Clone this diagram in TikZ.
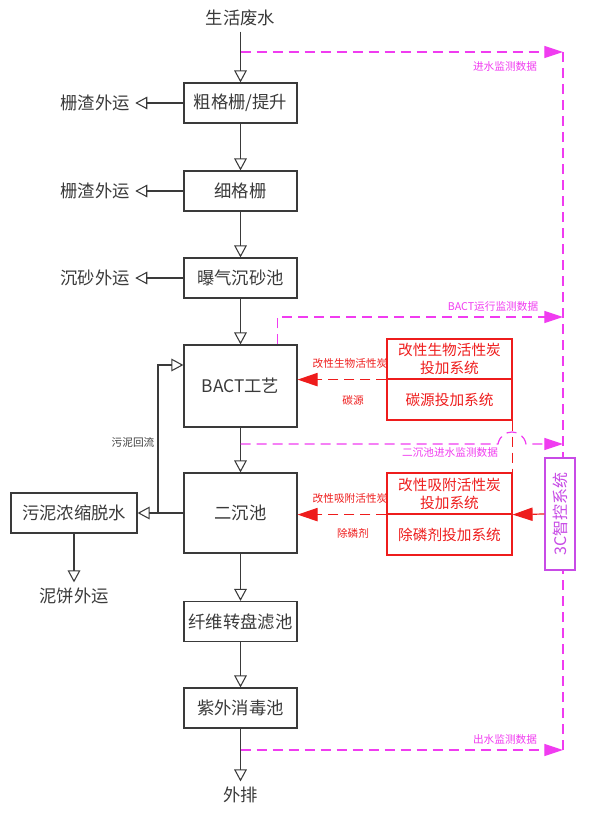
\documentclass[tikz,border=0pt]{standalone}
\usepackage{fontspec}
\setmainfont{Noto Sans CJK SC}
\usetikzlibrary{arrows.meta,positioning}
\definecolor{ink}{HTML}{3A3A3A}
\definecolor{mon}{HTML}{F03CF0}
\definecolor{dose}{HTML}{EE1C1C}
\definecolor{ctrl}{HTML}{C84BE6}

\begin{document}
\begin{tikzpicture}[
  x=.75pt,y=-.75pt,
  line join=miter,
  stage/.style={draw=ink, line width=.9pt, minimum width=84.75pt, minimum height=30pt, inner sep=0pt, font=\fontsize{13}{15}\selectfont, text=ink},
  txt/.style={font=\fontsize{13}{15}\selectfont, text=ink, inner sep=4pt},
  feed/.style={draw=dose, line width=.9pt, minimum width=93.75pt, minimum height=30.75pt, inner sep=0pt, align=center, font=\fontsize{11}{13.5}\selectfont, text=dose},
  note/.style={font=\fontsize{8}{9}\selectfont, inner sep=0pt},
  flow/.style={draw=ink, line width=.8pt, -{Triangle[open,length=9pt,width=9.5pt]}},
  data/.style={draw=mon, line width=.9pt, dash pattern=on 7.5pt off 4.5pt, -{Triangle[length=14pt,width=9pt]}},
  dosing/.style={draw=dose, line width=.9pt, dash pattern=on 7.5pt off 4.5pt, -{Triangle[length=15pt,width=10pt]}}
]
\useasboundingbox (0,0) rectangle (591,813);

% main treatment train
\node[txt] (in) at (240.5,18) {生活废水};
\node[stage] (b1) at (240.5,103) {粗格栅/提升};
\node[stage] (b2) at (240.5,191) {细格栅};
\node[stage] (b3) at (240.5,278) {曝气沉砂池};
\node[stage, minimum height=61.5pt] (b4) at (240.5,386) {BACT工艺};
\node[stage, minimum height=60pt] (b5) at (240.5,513) {二沉池};
\node[stage] (b6) at (240.5,621.5) {纤维转盘滤池};
\node[stage] (b7) at (240.5,708) {紫外消毒池};
\node[txt] (out) at (240.5,795) {外排};

\draw[flow] (in) -- (b1);
\draw[flow] (b1) -- (b2);
\draw[flow] (b2) -- (b3);
\draw[flow] (b3) -- (b4);
\draw[flow] (b4) -- (b5);
\draw[flow] (b5) -- (b6);
\draw[flow] (b6) -- (b7);
\draw[flow] (b7) -- (out);

% side outputs
\node[txt] (o1) at (95,103) {栅渣外运};
\node[txt] (o2) at (95,191) {栅渣外运};
\node[txt] (o3) at (95,278) {沉砂外运};
\draw[flow] (b1) -- (o1);
\draw[flow] (b2) -- (o2);
\draw[flow] (b3) -- (o3);

% sludge line
\node[stage, minimum width=94.5pt] (sl) at (74,513) {污泥浓缩脱水};
\node[txt] (cake) at (74,596) {泥饼外运};
\draw[flow] (b5) -- (sl);
\draw[flow] (sl) -- (cake);
\coordinate (rj) at (158,513);
\coordinate (rin) at ([yshift=15.75pt]b4.west);
\draw[flow] (rj) |- (rin);
\node[note, text=ink] (rl) at (133,442) {污泥回流};

% monitoring data to the control bus
\coordinate (t1) at (240.5,52);
\coordinate (t2) at ([xshift=28pt]b4.north);
\coordinate (t3) at (240.5,444);
\coordinate (t4) at (240.5,750);
\coordinate (bus1) at (563,52);
\coordinate (bus2) at (563,317);
\coordinate (bus3) at (563,444);
\coordinate (bus4) at (563,750);
\draw[data,-] (bus1) -- (bus4);
\draw[data] (t1) -- (bus1);
\draw[data] (t2) |- (bus2);
\draw[data] (t3) -- (498,444) .. controls (501,428) and (523,428) .. (526,444) -- (bus3);
\draw[data] (t4) -- (bus4);
\node[note, text=mon] (l1) at (505,66) {进水监测数据};
\node[note, text=mon] (l2) at (493,306) {BACT运行监测数据};
\node[note, text=mon] (l3) at (450,452) {二沉池进水监测数据};
\node[note, text=mon] (l4) at (505,739) {出水监测数据};

% dosing systems
\node[feed, minimum height=30pt] (r1) at (449.5,359) {改性生物活性炭\\投加系统};
\node[feed] (r2) at (449.5,399.5) {碳源投加系统};
\node[feed] (r3) at (449.5,493.5) {改性吸附活性炭\\投加系统};
\node[feed] (r4) at (449.5,534.5) {除磷剂投加系统};
\draw[dosing] (r1.south west) -- (r1.south west -| b4.east);
\draw[dosing] (r3.south west) -- (r3.south west -| b5.east);
\draw[dosing,-] (r2.south east) -- (r3.north east);
\node[note, text=dose] (d1) at (350,363) {改性生物活性炭};
\node[note, text=dose] (d2) at (353,400) {碳源};
\node[note, text=dose] (d3) at (350,498) {改性吸附活性炭};
\node[note, text=dose] (d4) at (353,533) {除磷剂};

% 3C control system
\node[draw=ctrl, line width=.9pt, fill=white, rotate=90, minimum width=84pt, minimum height=22.5pt, inner sep=0pt, text=ctrl, font=\fontsize{12}{14}\selectfont] (ctl) at (560,514) {3C智控系统};
\draw[draw=dose, line width=.9pt, -{Triangle[length=15pt,width=10pt]}] (ctl.north) -- (r3.south east);

\end{tikzpicture}
\end{document}
